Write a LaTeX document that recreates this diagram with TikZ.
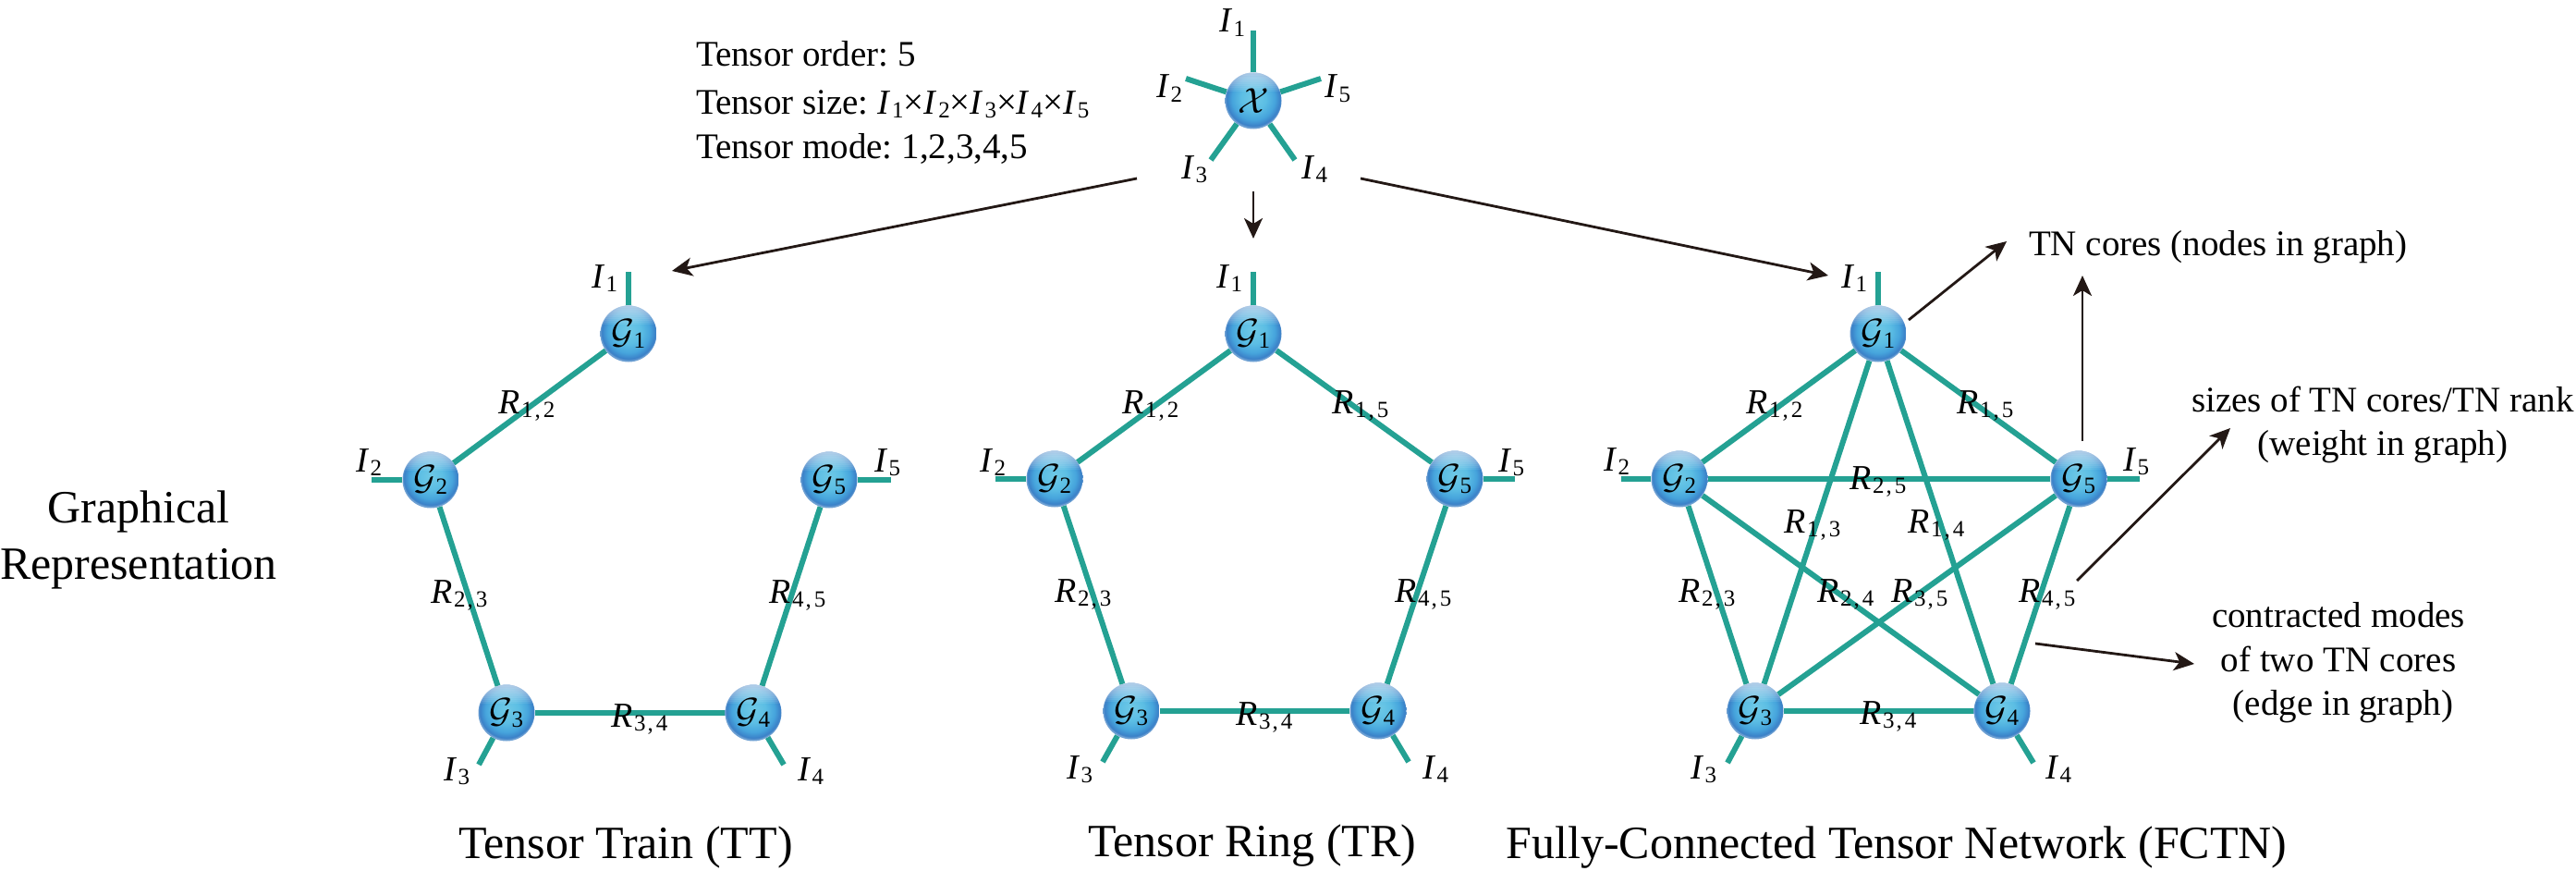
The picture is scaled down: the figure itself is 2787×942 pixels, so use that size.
\documentclass[tikz,border=0pt]{standalone}
\usepackage{fontspec}
\setmainfont{Liberation Serif}
\usetikzlibrary{arrows.meta,backgrounds}
\definecolor{teal1}{HTML}{24A193}
\definecolor{ink}{HTML}{231815}
\definecolor{ballA}{HTML}{6FC9E6}
\definecolor{ballB}{HTML}{5CBEE4}
\definecolor{ballC}{HTML}{46A4DC}
\definecolor{ballD}{HTML}{3A7FC7}
\definecolor{ballE}{HTML}{6C9FD2}
\pgfdeclareradialshading{tnball}{\pgfpoint{0bp}{3bp}}{%
  color(0bp)=(ballA);color(11bp)=(ballB);color(19bp)=(ballC);color(24bp)=(ballD);color(25bp)=(ballE);color(50bp)=(ballE)}
\newcommand{\bodyfs}{\fontsize{39}{47}\selectfont}
\newcommand{\bigfs}{\fontsize{50}{61}\selectfont}
\newcommand{\subbox}[1]{\raisebox{-4.5pt}{\fontsize{25}{25}\selectfont #1}}
\newcommand{\Ilab}[1]{{\fontsize{38}{38}\selectfont\itshape I}\kern3pt\subbox{#1}}
\newcommand{\Rlab}[2]{{\fontsize{38}{38}\selectfont\itshape R}\kern2pt\subbox{#1\kern2pt,\kern3pt#2}}
\newcommand{\calG}[1]{\raisebox{-3pt}{\scalebox{3.8}{$\mathcal{G}$}}\kern-1pt\raisebox{-3pt}{\subbox{#1}}}
\tikzset{
  x=1pt,y=-1pt,
  tnball/.style={circle,inner sep=0pt,minimum size=61pt,shading=tnball,
    path picture={\foreach \d in {2,4,...,20}
      {\fill[white,opacity=.085]
      (path picture bounding box.north west) rectangle
      ([yshift=-\d pt]path picture bounding box.north east);}}},
  tnedge/.style={draw=teal1,line width=6pt},
  callout/.style={draw=ink,line width=2.8pt,-{Stealth[length=22pt,width=20pt,inset=6pt]}},
  lab/.style={anchor=base west,inner sep=0pt,outer sep=0pt},
  txt/.style={anchor=base west,inner sep=0pt,outer sep=0pt,font=\bodyfs},
  txtc/.style={anchor=base,inner sep=0pt,outer sep=0pt,font=\bodyfs},
  bigc/.style={anchor=base,inner sep=0pt,outer sep=0pt,font=\bigfs},
}
\begin{document}
\frenchspacing
\begin{tikzpicture}
\useasboundingbox (0,0) rectangle (2787,942);
% ---- tensor X
\node[tnball] (x) at (1356,109) {\scalebox{3.9}{$\mathcal{X}$}};
\coordinate (xi1) at (1356,33);
\coordinate (xi2) at (1283,85);
\coordinate (xi3) at (1310,173);
\coordinate (xi4) at (1401,173);
\coordinate (xi5) at (1429,85);
\node[lab] (xl1) at (1319,35) {\Ilab{1}};
\node[lab] (xl2) at (1251,106) {\Ilab{2}};
\node[lab] (xl3) at (1278,193) {\Ilab{3}};
\node[lab] (xl4) at (1408,193) {\Ilab{4}};
\node[lab] (xl5) at (1433,106) {\Ilab{5}};
\node[txt] (info1) at (753,72) {Tensor order: 5};
\node[txt] (info2) at (753,123) {Tensor size: \Ilab{1}×\Ilab{2}×\Ilab{3}×\Ilab{4}×\Ilab{5}};
\node[txt] (info3) at (753,171) {Tensor mode: 1,2,3,4,5};
% ---- TT
\node[tnball] (tt1) at (680,361) {\calG{1}};
\node[tnball] (tt2) at (466,519) {\calG{2}};
\node[tnball] (tt3) at (548,771) {\calG{3}};
\node[tnball] (tt4) at (815,771) {\calG{4}};
\node[tnball] (tt5) at (897,519) {\calG{5}};
\coordinate (tti1) at (680,294);
\coordinate (tti2) at (402,519);
\coordinate (tti3) at (518,827);
\coordinate (tti4) at (848,827);
\coordinate (tti5) at (964,519);
\node[lab] (ttl1) at (640,311) {\Ilab{1}};
\node[lab] (ttl2) at (385,510) {\Ilab{2}};
\node[lab] (ttl3) at (480,844) {\Ilab{3}};
\node[lab] (ttl4) at (863,844) {\Ilab{4}};
\node[lab] (ttl5) at (946,510) {\Ilab{5}};
\node[lab] (ttr12) at (539,447) {\Rlab{1}{2}};
\node[lab] (ttr23) at (466,652) {\Rlab{2}{3}};
\node[lab] (ttr34) at (661,786) {\Rlab{3}{4}};
\node[lab] (ttr45) at (832,652) {\Rlab{4}{5}};
\node[bigc] (ttcap) at (677,928) {Tensor Train (TT)};
% ---- TR
\node[tnball] (tr1) at (1356,361) {\calG{1}};
\node[tnball] (tr2) at (1141,518) {\calG{2}};
\node[tnball] (tr3) at (1224,769) {\calG{3}};
\node[tnball] (tr4) at (1491,769) {\calG{4}};
\node[tnball] (tr5) at (1574,518) {\calG{5}};
\coordinate (tri1) at (1356,294);
\coordinate (tri2) at (1077,518);
\coordinate (tri3) at (1193,824);
\coordinate (tri4) at (1524,824);
\coordinate (tri5) at (1639,518);
\node[lab] (trl1) at (1316,311) {\Ilab{1}};
\node[lab] (trl2) at (1060,510) {\Ilab{2}};
\node[lab] (trl3) at (1154,842) {\Ilab{3}};
\node[lab] (trl4) at (1539,842) {\Ilab{4}};
\node[lab] (trl5) at (1621,510) {\Ilab{5}};
\node[lab] (trr12) at (1214,447) {\Rlab{1}{2}};
\node[lab] (trr15) at (1441,447) {\Rlab{1}{5}};
\node[lab] (trr23) at (1141,651) {\Rlab{2}{3}};
\node[lab] (trr34) at (1337,784) {\Rlab{3}{4}};
\node[lab] (trr45) at (1509,651) {\Rlab{4}{5}};
\node[bigc] (trcap) at (1355,926) {Tensor Ring (TR)};
% ---- FCTN
\node[tnball] (fc1) at (2032,361) {\calG{1}};
\node[tnball] (fc2) at (1817,518) {\calG{2}};
\node[tnball] (fc3) at (1899,769) {\calG{3}};
\node[tnball] (fc4) at (2166,769) {\calG{4}};
\node[tnball] (fc5) at (2249,518) {\calG{5}};
\coordinate (fci1) at (2032,294);
\coordinate (fci2) at (1754,518);
\coordinate (fci3) at (1869,825);
\coordinate (fci4) at (2200,825);
\coordinate (fci5) at (2315,518);
\node[lab] (fcl1) at (1992,311) {\Ilab{1}};
\node[lab] (fcl2) at (1735,509) {\Ilab{2}};
\node[lab] (fcl3) at (1829,842) {\Ilab{3}};
\node[lab] (fcl4) at (2213,842) {\Ilab{4}};
\node[lab] (fcl5) at (2297,509) {\Ilab{5}};
\node[lab] (fcr12) at (1889,447) {\Rlab{1}{2}};
\node[lab] (fcr15) at (2117,447) {\Rlab{1}{5}};
\node[lab] (fcr25) at (2001,529) {\Rlab{2}{5}};
\node[lab] (fcr13) at (1930,576) {\Rlab{1}{3}};
\node[lab] (fcr14) at (2064,576) {\Rlab{1}{4}};
\node[lab] (fcr23) at (1816,651) {\Rlab{2}{3}};
\node[lab] (fcr24) at (1966,651) {\Rlab{2}{4}};
\node[lab] (fcr35) at (2046,651) {\Rlab{3}{5}};
\node[lab] (fcr45) at (2184,651) {\Rlab{4}{5}};
\node[lab] (fcr34) at (2012,783) {\Rlab{3}{4}};
\node[bigc] (fccap) at (2052,928) {Fully-Connected Tensor Network (FCTN)};
% ---- side texts
\node[bigc] (gr1) at (150,565) {Graphical};
\node[bigc] (gr2) at (150,626) {Representation};
\node[txt] (ann1) at (2195,276) {TN cores (nodes in graph)};
\node[txt] (ann2) at (2371,445) {sizes of TN cores/TN rank};
\node[txtc] (ann3) at (2578,492) {(weight in graph)};
\node[txtc] (ann4) at (2530,678) {contracted modes};
\node[txtc] (ann5) at (2530,726) {of two TN cores};
\node[txtc] (ann6) at (2535,773) {(edge in graph)};
% ---- edges under the balls
\begin{scope}[on background layer]
  \foreach \a/\b in {x/xi1,x/xi2,x/xi3,x/xi4,x/xi5,
    tt1/tti1,tt2/tti2,tt3/tti3,tt4/tti4,tt5/tti5,
    tt1/tt2,tt2/tt3,tt3/tt4,tt4/tt5,
    tr1/tri1,tr2/tri2,tr3/tri3,tr4/tri4,tr5/tri5,
    tr1/tr2,tr2/tr3,tr3/tr4,tr4/tr5,tr5/tr1,
    fc1/fci1,fc2/fci2,fc3/fci3,fc4/fci4,fc5/fci5,
    fc1/fc2,fc1/fc3,fc1/fc4,fc1/fc5,fc2/fc3,fc2/fc4,fc2/fc5,fc3/fc4,fc3/fc5,fc4/fc5}
    {\draw[tnedge] (\a) -- (\b);}
\end{scope}
% ---- arrows
\coordinate (a1s) at (1230,193); \coordinate (a1e) at (727,293);
\coordinate (a2s) at (1356,207); \coordinate (a2e) at (1356,258);
\coordinate (a3s) at (1472,193); \coordinate (a3e) at (1978,298);
\coordinate (a4s) at (2065,346); \coordinate (a4e) at (2171,261);
\coordinate (a5s) at (2253,477); \coordinate (a5e) at (2253,298);
\coordinate (a6s) at (2247,628); \coordinate (a6e) at (2413,463);
\coordinate (a7s) at (2202,696); \coordinate (a7e) at (2374,718);
\foreach \n in {1,...,7} {\draw[callout] (a\n s) -- (a\n e);}
\end{tikzpicture}
\end{document}
